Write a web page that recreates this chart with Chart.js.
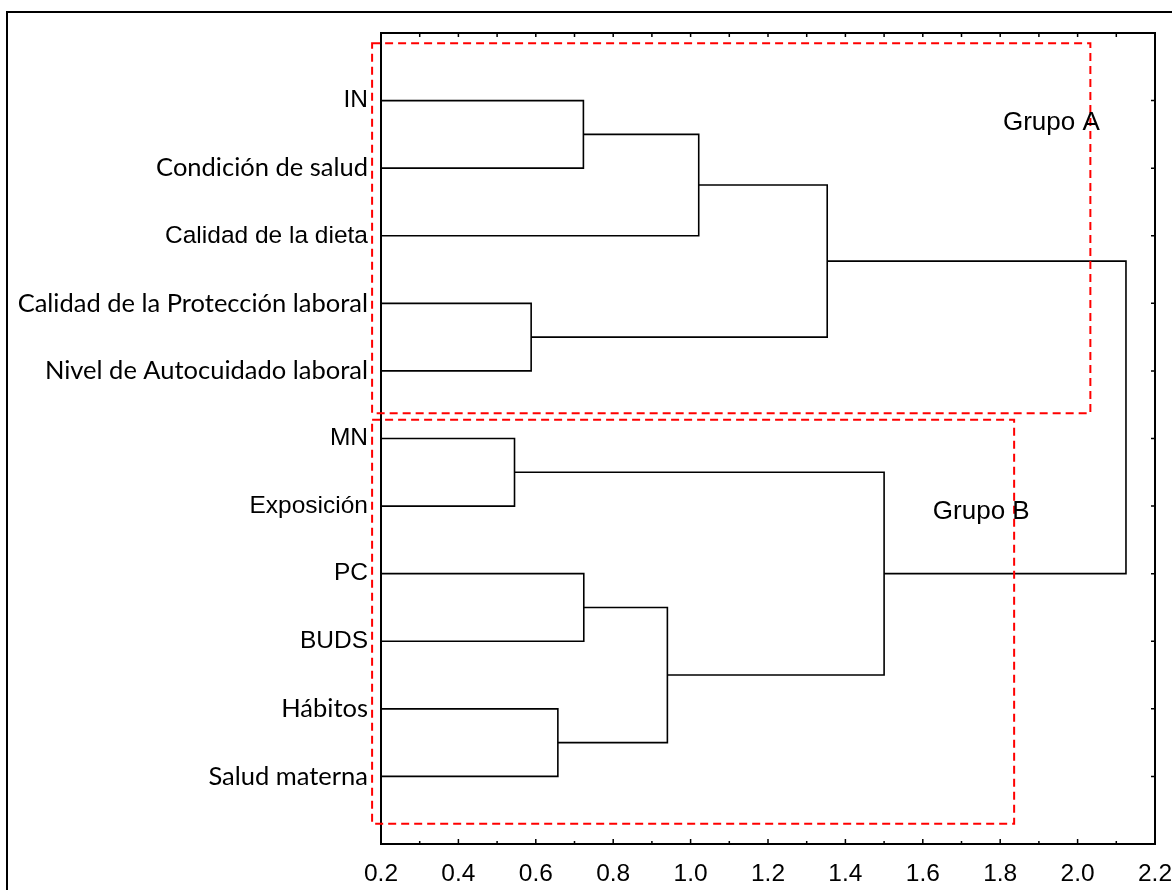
<!DOCTYPE html>
<html>
<head>
<meta charset="utf-8">
<script src="https://cdn.jsdelivr.net/npm/chart.js@4.4.0/dist/chart.umd.min.js"></script>
<style>
  body { margin: 0; background: #fff; }
  #wrap { width: 1172px; height: 890px; position: relative; }
</style>
</head>
<body>
<div id="wrap"><canvas id="dendro"></canvas></div>
<script>
// leaves, top to bottom
const leaves = ['IN', 'Condición de salud', 'Calidad de la dieta', 'Calidad de la Protección laboral',
    'Nivel de Autocuidado laboral', 'MN', 'Exposición', 'PC', 'BUDS', 'Hábitos', 'Salud materna'];

// merges: node ids 0..10 are leaves, merge k gets id 11 + k
const mergeLeft   = [0, 11, 3, 12, 5, 7, 9, 16, 15, 14];
const mergeRight  = [1, 2, 4, 13, 6, 8, 10, 17, 18, 19];
const mergeHeight = [0.723, 1.021, 0.588, 1.353, 0.545, 0.724, 0.657, 0.940, 1.500, 2.125];

const xTicks = [0.2, 0.4, 0.6, 0.8, 1.0, 1.2, 1.4, 1.6, 1.8, 2.0, 2.2];
const xTickLabels = ['0.2', '0.4', '0.6', '0.8', '1.0', '1.2', '1.4', '1.6', '1.8', '2.0', '2.2'];

const groupNames = ['Grupo A', 'Grupo B'];

// labels drawn in a Calibri-like face in the original
const calibriLabels = ['Condición de salud', 'Calidad de la Protección laboral',
    'Nivel de Autocuidado laboral', 'Hábitos', 'Salud materna'];

const X_MIN = xTicks[0];
const X_MAX = xTicks[xTicks.length - 1];

// node positions
const nodeX = [];
const nodeY = [];
leaves.forEach((name, i) => {
    nodeX.push(X_MIN);
    nodeY.push(i + 1);
});
mergeHeight.forEach((h, k) => {
    const a = mergeLeft[k], b = mergeRight[k];
    nodeX.push(h);
    nodeY.push((nodeY[a] + nodeY[b]) / 2);
});

const datasets = mergeHeight.map((h, k) => {
    const a = mergeLeft[k], b = mergeRight[k];
    return {
        data: [
            { x: nodeX[a], y: nodeY[a] },
            { x: h, y: nodeY[a] },
            { x: h, y: nodeY[b] },
            { x: nodeX[b], y: nodeY[b] }
        ],
        showLine: true,
        borderColor: '#000',
        borderWidth: 1.6,
        pointRadius: 0,
        fill: false,
        tension: 0
    };
});

// dashed group boxes and their labels, in axis units
const groupBoxes = [
    { x0: 0.177, x1: 2.033, y0: 0.152, y1: 5.627, tx: 1.807, ty: 1.44 },
    { x0: 0.177, x1: 1.836, y0: 5.722, y1: 11.70, tx: 1.626, ty: 7.19 }
];

const arialFont = '"Liberation Sans", Arial, sans-serif';
const calibriFont = 'Lato, "Noto Sans", sans-serif';

const decorPlugin = {
    id: 'decor',
    beforeDraw(chart) {
        const ctx = chart.ctx;
        ctx.save();
        ctx.fillStyle = '#fff';
        ctx.fillRect(0, 0, chart.width, chart.height);
        ctx.strokeStyle = '#000';
        ctx.lineWidth = 2;
        ctx.strokeRect(7, 12, chart.width + 20, chart.height + 20);
        ctx.restore();
    },
    afterDraw(chart) {
        const { ctx, chartArea: a, scales: { x, y } } = chart;
        ctx.save();
        ctx.strokeStyle = '#000';
        ctx.lineWidth = 2;
        ctx.strokeRect(a.left, a.top, a.right - a.left, a.bottom - a.top);

        // inward ticks
        ctx.lineWidth = 1.5;
        ctx.beginPath();
        xTicks.forEach((v, i) => {
            const px = x.getPixelForValue(v);
            ctx.moveTo(px, a.bottom); ctx.lineTo(px, a.bottom - 5);
            ctx.moveTo(px, a.top); ctx.lineTo(px, a.top + 4);
            if (i < xTicks.length - 1) {
                const mx = x.getPixelForValue((v + xTicks[i + 1]) / 2);
                ctx.moveTo(mx, a.bottom); ctx.lineTo(mx, a.bottom - 3);
                ctx.moveTo(mx, a.top); ctx.lineTo(mx, a.top + 4);
            }
        });
        leaves.forEach((_, i) => {
            const py = y.getPixelForValue(i + 1);
            ctx.moveTo(a.right, py); ctx.lineTo(a.right - 4, py);
        });
        ctx.stroke();

        // group boxes
        ctx.strokeStyle = '#ff0000';
        ctx.lineWidth = 2;
        ctx.setLineDash([8, 5]);
        groupBoxes.forEach(b => {
            const l = x.getPixelForValue(b.x0), r = x.getPixelForValue(b.x1);
            const t = y.getPixelForValue(b.y0), btm = y.getPixelForValue(b.y1);
            ctx.strokeRect(l, t, r - l, btm - t);
        });
        ctx.setLineDash([]);

        ctx.fillStyle = '#000';
        ctx.font = '26px ' + arialFont;
        ctx.textBaseline = 'alphabetic';
        ctx.textAlign = 'left';
        groupBoxes.forEach((b, i) => {
            ctx.fillText(groupNames[i], x.getPixelForValue(b.tx), y.getPixelForValue(b.ty));
        });
        ctx.restore();
    }
};

new Chart(document.getElementById('dendro'), {
    type: 'scatter',
    data: { datasets: datasets },
    options: {
        responsive: true,
        maintainAspectRatio: false,
        animation: false,
        layout: { padding: { top: 33, left: 0, right: 0, bottom: 0 } },
        plugins: { legend: { display: false }, tooltip: { enabled: false } },
        scales: {
            x: {
                type: 'linear',
                min: X_MIN,
                max: X_MAX,
                grid: { display: false, drawTicks: false },
                border: { display: false },
                afterBuildTicks: scale => { scale.ticks = xTicks.map(v => ({ value: v })); },
                afterFit: scale => {
                    scale.height = 46;
                    scale.paddingRight = 17;
                },
                ticks: {
                    autoSkip: false,
                    maxRotation: 0,
                    padding: 16,
                    color: '#000',
                    font: { family: arialFont, size: 24.5 },
                    callback: (v, i) => xTickLabels[i]
                }
            },
            y: {
                type: 'linear',
                min: 0,
                max: leaves.length + 1,
                reverse: true,
                grid: { display: false, drawTicks: false },
                border: { display: false },
                afterBuildTicks: scale => { scale.ticks = leaves.map((_, i) => ({ value: i + 1 })); },
                afterFit: scale => { scale.width = 381; },
                ticks: {
                    autoSkip: false,
                    padding: 13,
                    color: '#000',
                    font: ctx => {
                        const name = leaves[ctx.index];
                        return calibriLabels.includes(name)
                            ? { family: calibriFont, size: 25.5 }
                            : { family: arialFont, size: 24.5 };
                    },
                    callback: (v, i) => leaves[i]
                }
            }
        }
    },
    plugins: [decorPlugin]
});
</script>
</body>
</html>
